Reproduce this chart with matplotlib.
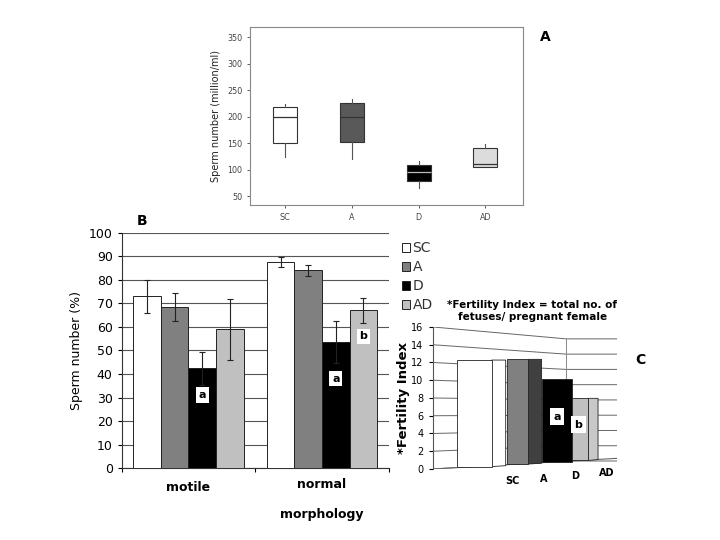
import matplotlib
matplotlib.use("Agg")
import matplotlib.pyplot as plt
import numpy as np

# ---- data ----
groups = ["SC", "A", "D", "AD"]
colors = ["#ffffff", "#808080", "#000000", "#c0c0c0"]

# panel A: box stats (whislo, q1, med, q3, whishi)
box_lo = [123, 120, 65, 105]
box_q1 = [150, 153, 78, 105]
box_med = [200, 200, 95, 111]
box_q3 = [219, 226, 108, 140]
box_hi = [224, 234, 117, 149]
box_colors = ["#ffffff", "#595959", "#000000", "#dcdcdc"]

# panel B: percent, mean and error
b_cats = ["motile", "normal\n\nmorphology"]
b_means = {"SC": [73, 87.5], "A": [68.5, 84], "D": [42.5, 53.5], "AD": [59, 67]}
b_errs = {"SC": [7, 2], "A": [6, 2.2], "D": [7, 9], "AD": [13, 5.2]}
b_letters = [("D", 0, "a", 31), ("D", 1, "a", 38), ("AD", 1, "b", 56)]

# panel C: fertility index
c_vals = [12, 11.8, 9.3, 7.0]
c_side = ["#ffffff", "#404040", "#000000", "#c8c8c8"]
c_letters = [(2, "a", 5.9), (3, "b", 5.0)]

fig = plt.figure(figsize=(7.2, 5.4), dpi=100)

# ---------------- panel A ----------------
axA = fig.add_axes([0.347, 0.620, 0.379, 0.330])
stats = []
for i, g in enumerate(groups):
    stats.append(dict(label=g, whislo=box_lo[i], q1=box_q1[i], med=box_med[i],
                      q3=box_q3[i], whishi=box_hi[i], fliers=[]))
bp = axA.bxp(stats, positions=[1, 2, 3, 4], widths=0.36, patch_artist=True,
             showfliers=False, showcaps=False)
for i, patch in enumerate(bp["boxes"]):
    patch.set_facecolor(box_colors[i])
    patch.set_edgecolor("#333333")
    patch.set_linewidth(0.8)
for i, med in enumerate(bp["medians"]):
    med.set_color("#bbbbbb" if i == 2 else "#333333")
    med.set_linewidth(0.9)
for w in bp["whiskers"]:
    w.set_color("#555555")
    w.set_linewidth(0.8)
axA.set_xlim(0.47, 4.56)
axA.set_ylim(33, 369)
axA.set_yticks(np.arange(50, 351, 50))
axA.tick_params(labelsize=5.8, colors="#444444", length=2, width=0.6)
axA.set_ylabel("Sperm number (million/ml)", fontsize=7, color="#222222")
for s in axA.spines.values():
    s.set_color("#888888")
    s.set_linewidth(0.8)
fig.text(0.757, 0.932, "A", fontsize=10, fontweight="bold", ha="center", va="center")

# ---------------- panel B ----------------
axB = fig.add_axes([0.169, 0.133, 0.371, 0.436])
bw = 0.207
xB = np.arange(len(b_cats))
handles = []
for j, g in enumerate(groups):
    xs = xB + (j - 1.5) * bw
    h = axB.bar(xs, b_means[g], bw, color=colors[j], edgecolor="#222222",
                linewidth=0.7, zorder=3, label=g)
    axB.errorbar(xs, b_means[g], yerr=b_errs[g], fmt="none", ecolor="#222222",
                 elinewidth=0.8, capsize=2.5, capthick=0.8, zorder=4)
    handles.append(h)
for g, k, letter, yv in b_letters:
    x = xB[k] + (groups.index(g) - 1.5) * bw
    axB.text(x, yv, letter, ha="center", va="center", fontsize=8, fontweight="bold",
             bbox=dict(boxstyle="square,pad=0.25", fc="white", ec="none"), zorder=5)
axB.set_xlim(-0.5, 1.5)
axB.set_ylim(0, 100)
axB.set_yticks(np.arange(0, 101, 10))
axB.yaxis.grid(True, color="#555555", linewidth=0.8, zorder=0)
axB.set_xticks([-0.5, 0.5, 1.5])
axB.set_xticklabels([])
axB.tick_params(axis="both", direction="out", length=3, width=0.8, labelsize=9)
for s in ["top", "right"]:
    axB.spines[s].set_visible(False)
axB.spines["left"].set_color("#333333")
axB.spines["bottom"].set_color("#333333")
axB.set_ylabel("Sperm number (%)", fontsize=9)
axB.text(0, -0.055, "motile", transform=axB.get_xaxis_transform(), ha="center",
         va="top", fontsize=9, fontweight="bold")
axB.text(1, -0.04, b_cats[1], transform=axB.get_xaxis_transform(), ha="center",
         va="top", fontsize=9, fontweight="bold", linespacing=1.2)
fig.text(0.197, 0.591, "B", fontsize=10, fontweight="bold", ha="center", va="center")

fig.legend(handles, groups, loc="upper left", bbox_to_anchor=(0.541, 0.576),
           frameon=False, fontsize=10, handlelength=0.6, handleheight=0.6,
           handletextpad=0.15, labelspacing=0.35, labelcolor="#333333")

# ---------------- panel C ----------------
axC = fig.add_axes([0.601, 0.1315, 0.256, 0.263])
xmin, xmax, xbreak = -1.1, 3.75, 2.41
axC.set_xlim(xmin, xmax)
axC.set_ylim(0, 16)
yt = np.arange(0, 17, 2)
for v in yt:
    axC.plot([xmin, xbreak, xmax], [v, 0.86 * v + 0.9, 0.86 * v + 0.9],
             color="#666666", linewidth=0.7, zorder=1)
axC.plot([xbreak, xbreak], [0.9, 0.86 * 16 + 0.9], color="#888888", lw=0.7, zorder=1)
axC.plot([xmax, xmax], [1.2, 0.86 * 16 + 0.9], color="#888888", lw=0.7, zorder=1)
# floor front edge
axC.plot([xmin, xmax], [0, 1.2], color="#666666", lw=0.8, zorder=1)

# perspective: bars get narrower and crowd towards the back
c_pos = np.array([0.0, 1.13, 2.17, 2.78])
c_w = np.array([0.9, 0.55, 0.8, 0.42])
c_sw = [0.37, 0.36, 0.0, 0.26]
floor = (c_pos - xmin) / (xmax - xmin) * 1.2
axC.bar(c_pos, c_vals, c_w, bottom=floor, color=colors, edgecolor="#222222",
        linewidth=0.6, zorder=3)
for i in range(len(groups)):
    if c_sw[i] == 0:
        continue
    x0 = c_pos[i] + c_w[i] / 2
    top = floor[i] + c_vals[i]
    axC.fill([x0, x0 + c_sw[i], x0 + c_sw[i], x0], [floor[i], floor[i] + 0.1, top, top],
             facecolor=c_side[i], edgecolor="#222222", linewidth=0.6, zorder=2.5)
for k, letter, yv in c_letters:
    axC.text(c_pos[k] - (0.05 if k == 3 else 0), yv, letter, ha="center", va="center",
             fontsize=8, fontweight="bold",
             bbox=dict(boxstyle="square,pad=0.3", fc="white", ec="none"), zorder=5)
for i, g in enumerate(groups):
    axC.text(i * 0.83 + 1.0, -0.05 + 0.018 * i, g, transform=axC.get_xaxis_transform(),
             ha="center", va="top", fontsize=7, fontweight="bold")
axC.set_yticks(yt)
axC.set_xticks([])
axC.tick_params(axis="y", direction="out", length=3, width=0.8, labelsize=7)
for s in ["top", "right", "bottom"]:
    axC.spines[s].set_visible(False)
axC.spines["left"].set_color("#555555")
axC.set_ylabel("*Fertility Index", fontsize=9.5, fontweight="bold", labelpad=1)
axC.set_title("*Fertility Index = total no. of\nfetuses/ pregnant female", fontsize=7.5,
              fontweight="bold", x=0.54, pad=5)
fig.text(0.890, 0.333, "C", fontsize=10, fontweight="bold", ha="center", va="center")

fig.savefig("out.png", dpi=100)
